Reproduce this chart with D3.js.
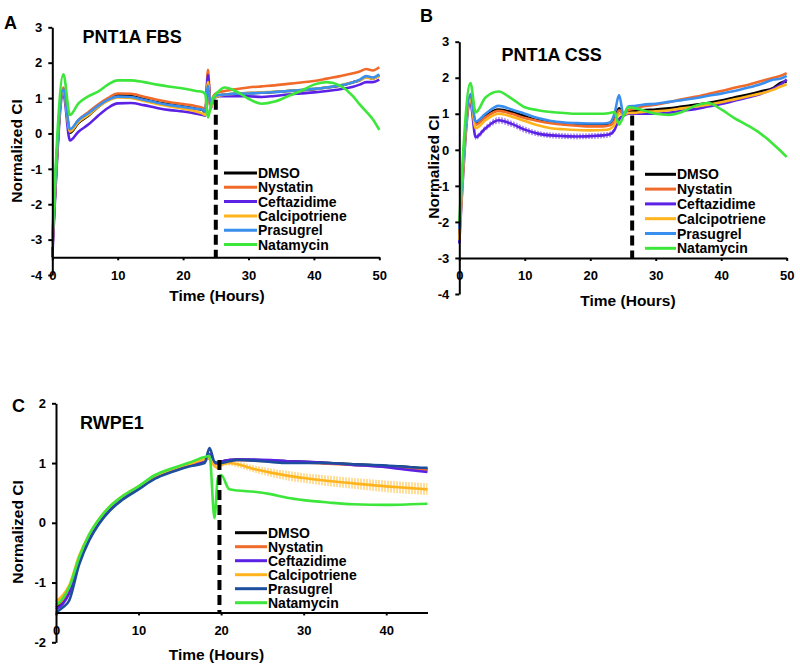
<!DOCTYPE html>
<html><head><meta charset="utf-8">
<script src="https://cdn.jsdelivr.net/npm/d3@7"></script>
<style>
body{margin:0;background:#fff}
svg{display:block}
text{font-family:"Liberation Sans",Arial,Helvetica,sans-serif;font-weight:bold;fill:#000}
</style>
</head><body>
<svg id="chart" width="800" height="669"></svg>
<script>
// ---------------- DATA ----------------
const seriesNames = ["DMSO", "Nystatin", "Ceftazidime", "Calcipotriene", "Prasugrel", "Natamycin"];

// Panel A: PNT1A FBS
const timeA = [0, 1.7, 2.7, 4, 5.5, 7, 8.5, 10, 12, 14, 16, 18, 20, 22, 23, 23.4, 23.8, 24.2, 24.6, 25.2, 26.4, 28, 30, 32, 34, 36, 38, 40, 42, 44, 46, 47, 48, 49, 50];
const dmsoA = [-3.3, 1.25, 0.02, 0.3, 0.5, 0.75, 0.95, 1.08, 1.06, 0.97, 0.88, 0.82, 0.76, 0.7, 0.66, 0.6, 1.55, 0.75, 0.95, 1.05, 1.1, 1.12, 1.14, 1.15, 1.17, 1.2, 1.22, 1.25, 1.3, 1.35, 1.45, 1.5, 1.6, 1.55, 1.65];
const nystatinA = [-3.4, 1.3, 0.08, 0.38, 0.6, 0.82, 1.0, 1.13, 1.12, 1.04, 0.95, 0.88, 0.83, 0.77, 0.72, 0.65, 1.8, 0.8, 1.05, 1.15, 1.2, 1.25, 1.3, 1.33, 1.36, 1.4, 1.44, 1.48, 1.55, 1.62, 1.7, 1.75, 1.82, 1.78, 1.87];
const ceftazidimeA = [-3.5, 1.1, -0.2, 0.05, 0.25, 0.5, 0.72, 0.85, 0.86, 0.8, 0.72, 0.66, 0.62, 0.56, 0.52, 0.5, 1.65, 0.7, 0.95, 1.05, 1.05, 1.05, 1.05, 1.03, 1.06, 1.1, 1.13, 1.16, 1.2, 1.25, 1.32, 1.38, 1.45, 1.45, 1.52];
const calcipotrieneA = [-3.2, 1.2, 0.05, 0.32, 0.52, 0.75, 0.92, 1.02, 1.0, 0.92, 0.83, 0.76, 0.7, 0.62, 0.56, 0.52, 1.45, 0.72, 0.95, 1.05, 1.1, 1.12, 1.14, 1.16, 1.18, 1.2, 1.23, 1.26, 1.3, 1.36, 1.45, 1.5, 1.58, 1.55, 1.62];
const prasugrelA = [-3.0, 1.25, 0.12, 0.38, 0.57, 0.78, 0.95, 1.04, 1.03, 0.95, 0.87, 0.8, 0.75, 0.7, 0.67, 0.62, 1.35, 0.8, 0.98, 1.08, 1.1, 1.12, 1.13, 1.15, 1.17, 1.2, 1.23, 1.26, 1.3, 1.36, 1.45, 1.52, 1.62, 1.58, 1.67];
const natamycinA = [-3.0, 1.67, 0.52, 0.85, 1.05, 1.18, 1.38, 1.5, 1.5, 1.45, 1.38, 1.32, 1.27, 1.2, 1.17, 1.1, 0.45, 0.75, 1.0, 1.15, 1.3, 1.2, 0.98, 0.84, 0.9, 1.05, 1.2, 1.38, 1.45, 1.35, 1.05, 0.82, 0.62, 0.4, 0.1];
const xTicksA = [0, 10, 20, 30, 40, 50];
const yTicksA = [3, 2, 1, 0, -1, -2, -3, -4];
const treatmentA = 25;

// Panel B: PNT1A CSS
const timeB = [0, 1.7, 2.5, 4, 6, 8, 10, 12, 14, 16, 18, 20, 22, 23, 23.7, 24.4, 25.1, 25.8, 27, 28, 30, 32, 34, 36, 38, 40, 42, 44, 46, 48, 49, 50];
const dmsoB = [-2.3, 1.5, 0.72, 0.95, 1.12, 1.05, 0.93, 0.82, 0.76, 0.73, 0.71, 0.7, 0.7, 0.72, 0.85, 1.15, 0.95, 1.08, 1.08, 1.1, 1.12, 1.15, 1.2, 1.25, 1.3, 1.37, 1.45, 1.53, 1.62, 1.72, 1.85, 1.9];
const nystatinB = [-2.4, 1.45, 0.7, 0.9, 1.08, 1.0, 0.88, 0.8, 0.74, 0.7, 0.67, 0.65, 0.65, 0.68, 0.8, 1.1, 1.0, 1.1, 1.15, 1.2, 1.25, 1.32, 1.4, 1.47, 1.55, 1.63, 1.72, 1.8, 1.9, 2.0, 2.05, 2.13];
const ceftazidimeB = [-2.6, 1.3, 0.35, 0.6, 0.82, 0.72, 0.56, 0.45, 0.4, 0.38, 0.37, 0.38, 0.4, 0.43, 0.55, 0.85, 0.95, 1.0, 1.0, 1.0, 1.0, 1.03, 1.08, 1.13, 1.2, 1.27, 1.36, 1.45, 1.55, 1.7, 1.8, 1.95];
const calcipotrieneB = [-2.5, 1.4, 0.6, 0.82, 1.0, 0.92, 0.8, 0.68, 0.6, 0.57, 0.55, 0.54, 0.55, 0.58, 0.7, 1.0, 0.98, 1.02, 1.03, 1.05, 1.07, 1.1, 1.15, 1.2, 1.25, 1.32, 1.4, 1.48, 1.56, 1.67, 1.75, 1.82];
const prasugrelB = [-2.2, 1.55, 0.78, 1.0, 1.22, 1.12, 1.0, 0.88, 0.8, 0.76, 0.74, 0.73, 0.73, 0.76, 1.0, 1.52, 0.95, 1.2, 1.22, 1.25, 1.28, 1.33, 1.38, 1.43, 1.5, 1.56, 1.63, 1.72, 1.82, 1.95, 1.97, 2.05];
const natamycinB = [-2.0, 1.85, 1.04, 1.45, 1.62, 1.42, 1.18, 1.1, 1.05, 1.02, 1.0, 1.0, 1.0, 1.02, 1.05, 0.7, 0.95, 1.18, 1.15, 1.1, 1.0, 0.97, 1.05, 1.22, 1.3, 1.12, 0.88, 0.68, 0.45, 0.15, -0.02, -0.2];
const ceftazidimeErrB = [0, 0, 0.08, 0.08, 0.09, 0.09, 0.09, 0.08, 0.08, 0.08, 0.08, 0.08, 0.08, 0.08, 0.04, 0, 0, 0, 0, 0, 0, 0, 0, 0, 0, 0, 0, 0, 0, 0, 0, 0];
const xTicksB = [0, 10, 20, 30, 40, 50];
const yTicksB = [3, 2, 1, 0, -1, -2, -3, -4];
const treatmentB = 26.4;

// Panel C: RWPE1
const timeC = [0, 0.8, 1.6, 2.8, 4, 5.2, 6.5, 8, 10, 12, 14, 16, 18, 18.6, 19.2, 19.6, 20, 21, 22, 24, 26, 28, 30, 33, 36, 40, 43, 45];
const dmsoC = [-1.42, -1.33, -1.16, -0.64, -0.26, 0.02, 0.23, 0.41, 0.58, 0.76, 0.87, 0.96, 1.03, 1.1, 1.0, 1.0, 1.02, 1.05, 1.06, 1.05, 1.04, 1.03, 1.02, 1.0, 0.98, 0.95, 0.93, 0.9];
const nystatinC = [-1.38, -1.3, -1.12, -0.6, -0.22, 0.04, 0.25, 0.43, 0.6, 0.78, 0.89, 0.98, 1.05, 1.12, 1.0, 0.98, 1.0, 1.04, 1.05, 1.04, 1.03, 1.02, 1.01, 0.99, 0.97, 0.94, 0.91, 0.88];
const ceftazidimeC = [-1.45, -1.36, -1.18, -0.65, -0.27, 0.01, 0.22, 0.4, 0.58, 0.76, 0.87, 0.96, 1.03, 1.15, 1.0, 1.0, 1.02, 1.05, 1.06, 1.06, 1.05, 1.03, 1.02, 1.0, 0.97, 0.93, 0.88, 0.85];
const calcipotrieneC = [-1.32, -1.22, -1.05, -0.55, -0.2, 0.06, 0.27, 0.44, 0.61, 0.78, 0.89, 0.98, 1.06, 1.08, 0.95, 0.92, 0.97, 1.0, 0.98, 0.9, 0.84, 0.79, 0.75, 0.7, 0.66, 0.61, 0.58, 0.56];
const prasugrelC = [-1.5, -1.42, -1.3, -0.7, -0.3, -0.02, 0.2, 0.38, 0.56, 0.74, 0.85, 0.94, 1.0, 1.25, 1.02, 1.0, 1.0, 1.03, 1.05, 1.04, 1.02, 1.0, 1.0, 1.0, 0.98, 0.96, 0.93, 0.92];
const natamycinC = [-1.38, -1.27, -1.08, -0.58, -0.2, 0.06, 0.27, 0.44, 0.61, 0.8, 0.91, 1.0, 1.1, 1.12, 0.08, 0.75, 0.8, 0.56, 0.54, 0.52, 0.48, 0.42, 0.38, 0.34, 0.31, 0.3, 0.31, 0.32];
const calcipotrieneErrC = [0, 0.03, 0.03, 0.03, 0.03, 0.02, 0.02, 0.02, 0.02, 0.02, 0.02, 0.02, 0.02, 0.02, 0.03, 0.03, 0.03, 0.04, 0.05, 0.06, 0.07, 0.08, 0.08, 0.09, 0.09, 0.1, 0.1, 0.1];
const xTicksC = [0, 10, 20, 30, 40];
const yTicksC = [2, 1, 0, -1, -2];
const treatmentC = 19.8;

// ---------------- STYLE / LAYOUT ----------------
const colorsAB = ["#000000", "#F06A2A", "#5B22E6", "#FFB41E", "#3A8EEE", "#3DE63A"];
const colorsC  = ["#000000", "#F06A2A", "#5B22E6", "#FFB41E", "#1D4E9E", "#3DE63A"];

const panels = [
  { letter: "A", title: "PNT1A FBS", time: timeA,
    values: [dmsoA, nystatinA, ceftazidimeA, calcipotrieneA, prasugrelA, natamycinA],
    colors: colorsAB, xDomain: [0, 50], yDomain: [-4, 3], xCross: -3.5,
    xTicks: xTicksA, yTicks: yTicksA, treatment: treatmentA, dashTop: 0.95,
    err: null,
    xRange: [52.3, 379.3], yRange: [275, 27.3],
    letterPos: [4, 29], titlePos: [82.5, 43], xTitlePos: [217, 300.5], yTitlePos: [21.5, 151],
    legend: { x: 224, y: 173, dy: 14.3, len: 33 } },
  { letter: "B", title: "PNT1A CSS", time: timeB,
    values: [dmsoB, nystatinB, ceftazidimeB, calcipotrieneB, prasugrelB, natamycinB],
    colors: colorsAB, xDomain: [0, 50], yDomain: [-4, 3], xCross: -3,
    xTicks: xTicksB, yTicks: yTicksB, treatment: treatmentB, dashTop: 0.95,
    err: { series: 2, values: ceftazidimeErrB },
    xRange: [459.3, 786.7], yRange: [294, 41.7],
    letterPos: [420, 21.5], titlePos: [501.5, 61], xTitlePos: [628, 305.5], yTitlePos: [439, 167],
    legend: { x: 645, y: 174.3, dy: 14.8, len: 31 } },
  { letter: "C", title: "RWPE1", time: timeC,
    values: [dmsoC, nystatinC, ceftazidimeC, calcipotrieneC, prasugrelC, natamycinC],
    colors: colorsC, xDomain: [0, 45], yDomain: [-2, 2], xCross: -1.5,
    xTicks: xTicksC, yTicks: yTicksC, treatment: treatmentC, dashTop: 1.05,
    err: { series: 3, values: calcipotrieneErrC },
    xRange: [56, 427.5], yRange: [642.3, 403.3],
    letterPos: [12, 411.5], titlePos: [80, 429], xTitlePos: [216.5, 659.5], yTitlePos: [23, 532],
    legend: { x: 235, y: 532.7, dy: 14, len: 32 } }
];

// ---------------- DRAW ----------------
const svg = d3.select("#chart");
const defs = svg.append("defs");

panels.forEach((p, pi) => {
  const x = d3.scaleLinear().domain(p.xDomain).range(p.xRange);
  const y = d3.scaleLinear().domain(p.yDomain).range(p.yRange);
  const g = svg.append("g");

  // error band (vertical hatch)
  if (p.err) {
    const col = p.colors[p.err.series];
    const pid = "hatch" + pi;
    const pat = defs.append("pattern").attr("id", pid).attr("patternUnits", "userSpaceOnUse")
      .attr("width", 3).attr("height", 6);
    pat.append("line").attr("x1", 1).attr("x2", 1).attr("y1", 0).attr("y2", 6)
      .attr("stroke", col).attr("stroke-width", 1.2).attr("opacity", 0.75);
    const vals = p.values[p.err.series];
    const area = d3.area()
      .x((d, i) => x(p.time[i]))
      .y0((d, i) => y(vals[i] - d))
      .y1((d, i) => y(vals[i] + d))
      .curve(d3.curveMonotoneX);
    g.append("path").attr("d", area(p.err.values)).attr("fill", "url(#" + pid + ")");
  }

  // series lines
  const line = d3.line()
    .x((d, i) => x(p.time[i]))
    .y(d => y(d))
    .curve(d3.curveMonotoneX);
  p.values.forEach((vals, si) => {
    g.append("path").attr("d", line(vals))
      .attr("fill", "none").attr("stroke", p.colors[si])
      .attr("stroke-width", 2.6).attr("stroke-linejoin", "round");
  });

  // treatment dashed line
  g.append("line")
    .attr("x1", x(p.treatment)).attr("x2", x(p.treatment))
    .attr("y1", y(p.dashTop)).attr("y2", y(p.xCross))
    .attr("stroke", "#000").attr("stroke-width", 4).attr("stroke-dasharray", "10,5");

  // y axis
  const yAxis = d3.axisLeft(y).tickValues(p.yTicks).tickSize(4).tickSizeOuter(0)
    .tickPadding(6).tickFormat(d => String(d));
  const ya = g.append("g").attr("transform", `translate(${x(0)},0)`).call(yAxis);
  ya.select(".domain").attr("stroke-width", 2);
  ya.selectAll(".tick line").attr("stroke-width", 2);
  ya.selectAll("text").attr("font-size", 13).attr("font-weight", "bold")
    .attr("font-family", '"Liberation Sans", Arial, sans-serif');

  // x axis
  const xAxis = d3.axisBottom(x).tickValues(p.xTicks).tickSize(3).tickSizeOuter(0)
    .tickPadding(10).tickFormat(d => String(d));
  const xa = g.append("g").attr("transform", `translate(0,${y(p.xCross)})`).call(xAxis);
  xa.select(".domain").attr("stroke-width", 2);
  xa.selectAll(".tick line").attr("stroke-width", 2);
  xa.selectAll("text").attr("font-size", 13).attr("font-weight", "bold")
    .attr("font-family", '"Liberation Sans", Arial, sans-serif');

  // texts
  g.append("text").attr("x", p.letterPos[0]).attr("y", p.letterPos[1])
    .attr("font-size", 18).text(p.letter);
  g.append("text").attr("x", p.titlePos[0]).attr("y", p.titlePos[1])
    .attr("font-size", 18).text(p.title);
  g.append("text").attr("x", p.xTitlePos[0]).attr("y", p.xTitlePos[1])
    .attr("text-anchor", "middle").attr("font-size", 15.5).text("Time (Hours)");
  g.append("text")
    .attr("transform", `translate(${p.yTitlePos[0]},${p.yTitlePos[1]}) rotate(-90)`)
    .attr("text-anchor", "middle").attr("font-size", 15.5).text("Normalized CI");

  // legend
  const lg = g.append("g");
  seriesNames.forEach((name, si) => {
    const yy = p.legend.y + si * p.legend.dy;
    lg.append("line").attr("x1", p.legend.x).attr("x2", p.legend.x + p.legend.len)
      .attr("y1", yy).attr("y2", yy).attr("stroke", p.colors[si]).attr("stroke-width", 3);
    lg.append("text").attr("x", p.legend.x + p.legend.len + 1).attr("y", yy + 5)
      .attr("font-size", 14).text(name);
  });
});
</script>
</body></html>
